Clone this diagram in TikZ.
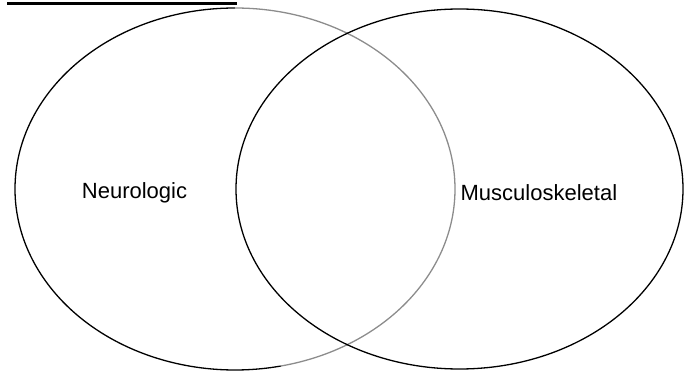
\documentclass[tikz,border=0pt]{standalone}
\usepackage{fontspec}
\setmainfont{Liberation Sans}
\begin{document}
\begin{tikzpicture}[x=1pt, y=1pt, line width=1.3pt,
    label text/.style={font=\fontsize{22}{26}\selectfont, inner sep=0pt}]
    \useasboundingbox (0,0) rectangle (694,370);
    % heading rule
    \draw[line width=3pt] (7,366) -- (237,366);
    % left set, its right half printed lighter
    \draw (235,362) arc[start angle=90, end angle=282, x radius=220, y radius=181];
    \draw[black!45] (235,362) arc[start angle=90, end angle=-78, x radius=220, y radius=181];
    % right set
    \draw (459.5,181) ellipse[x radius=223.5, y radius=180];
    \node[label text] (neuro) at (134.5,177) {Neurologic};
    \node[label text, anchor=west] (musculo) at (460,177) {Musculoskeletal};
\end{tikzpicture}
\end{document}
